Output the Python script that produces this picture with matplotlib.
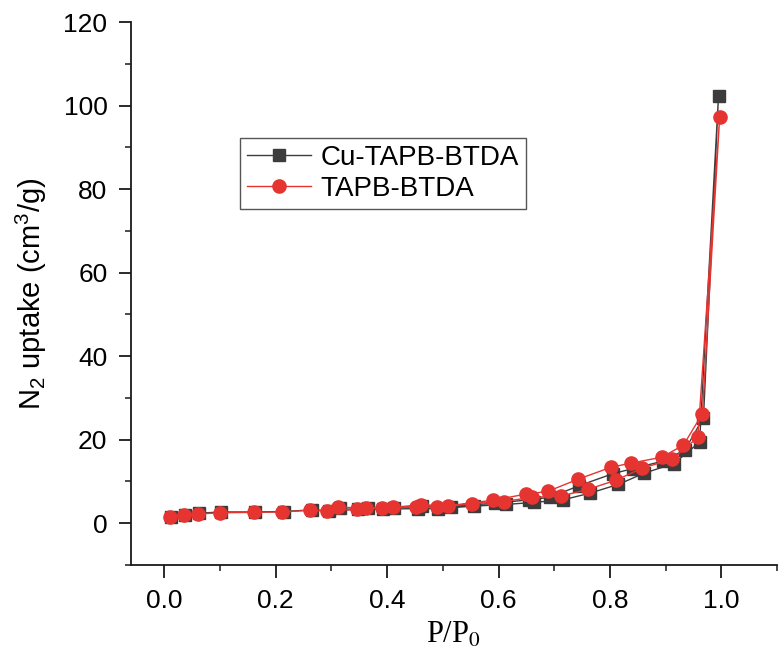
import matplotlib
matplotlib.use("Agg")
import matplotlib.pyplot as plt
from matplotlib.ticker import MultipleLocator, FormatStrFormatter

# N2 adsorption (rising P/P0) followed by desorption (falling P/P0)
p_cu_ads = [0.012, 0.037, 0.062, 0.102, 0.162, 0.214, 0.265, 0.295, 0.348, 0.393, 0.455,
            0.492, 0.556, 0.614, 0.664, 0.716, 0.764, 0.815, 0.862, 0.915, 0.961, 0.995]
v_cu_ads = [1.6, 2.0, 2.4, 2.7, 2.7, 2.8, 3.2, 3.0, 3.3, 3.4, 3.5,
            3.5, 4.1, 4.5, 5.0, 5.6, 7.2, 9.3, 12.0, 14.3, 19.4, 102.4]
p_cu_des = [0.968, 0.935, 0.896, 0.842, 0.806, 0.745, 0.692, 0.654, 0.594, 0.514,
            0.463, 0.413, 0.365, 0.315]
v_cu_des = [25.3, 17.6, 14.9, 13.1, 11.9, 9.0, 6.2, 5.6, 4.8, 4.0,
            4.1, 3.7, 3.6, 3.7]

p_tapb_ads = [0.010, 0.035, 0.060, 0.100, 0.160, 0.212, 0.262, 0.292, 0.346, 0.390, 0.452,
              0.490, 0.553, 0.610, 0.660, 0.712, 0.760, 0.811, 0.858, 0.912, 0.958, 0.997]
v_tapb_ads = [1.5, 1.9, 2.2, 2.5, 2.6, 2.7, 3.1, 2.9, 3.4, 3.6, 3.9,
              3.8, 4.7, 5.2, 6.2, 6.5, 8.1, 10.3, 13.2, 15.3, 20.6, 97.2]
p_tapb_des = [0.966, 0.932, 0.893, 0.838, 0.802, 0.742, 0.688, 0.650, 0.590, 0.510,
              0.460, 0.410, 0.362, 0.312]
v_tapb_des = [26.2, 18.7, 15.8, 14.4, 13.4, 10.5, 7.6, 7.0, 5.5, 4.2,
              4.4, 3.8, 3.7, 3.8]

series_names = ["Cu-TAPB-BTDA", "TAPB-BTDA"]

plt.rcParams["font.family"] = ["Liberation Sans", "DejaVu Sans"]
plt.rcParams["mathtext.fontset"] = "custom"
plt.rcParams["mathtext.rm"] = "Liberation Sans"
plt.rcParams["mathtext.it"] = "Liberation Sans:italic"

fig = plt.figure(figsize=(7.78, 6.5), dpi=100)
ax = fig.add_axes([131 / 778, 1 - 565 / 650, 646 / 778, (565 - 22) / 650])

dark = "#3c3c3c"
red = "#e63431"

ax.plot(p_cu_ads + p_cu_des, v_cu_ads + v_cu_des, color=dark, lw=1.0,
        marker="s", ms=8.5, mfc=dark, mec=dark, label=series_names[0], zorder=3)
ax.plot(p_tapb_ads + p_tapb_des, v_tapb_ads + v_tapb_des, color=red, lw=1.0,
        marker="o", ms=9.5, mfc=red, mec=red, label=series_names[1], zorder=4)

ax.set_xlim(-0.06, 1.1)
ax.set_ylim(-10, 120)
ax.xaxis.set_major_locator(MultipleLocator(0.2))
ax.xaxis.set_minor_locator(MultipleLocator(0.1))
ax.yaxis.set_major_locator(MultipleLocator(20))
ax.yaxis.set_minor_locator(MultipleLocator(10))
ax.xaxis.set_major_formatter(FormatStrFormatter("%.1f"))

for side in ("top", "right"):
    ax.spines[side].set_visible(False)
for side in ("left", "bottom"):
    ax.spines[side].set_linewidth(1.3)
    ax.spines[side].set_color("#1a1a1a")

ax.tick_params(which="major", direction="out", length=9, width=1.3, labelsize=19,
               pad=8, color="#1a1a1a")
ax.tick_params(which="minor", direction="out", length=4.5, width=1.1, color="#1a1a1a")

ax.set_ylabel(r"N$_2$ uptake (cm$^3$/g)", fontsize=21, labelpad=10)
ax.set_xlabel(r"P/P$_0$", fontsize=22, family="Liberation Serif",
              math_fontfamily="stix", labelpad=6)

leg = ax.legend(loc="upper left", bbox_to_anchor=(0.169, 0.787), borderaxespad=0,
                fontsize=20, frameon=True, fancybox=False, framealpha=1,
                edgecolor="#555555", borderpad=0.25, labelspacing=0.2,
                handlelength=2.3, handletextpad=0.35)
leg.get_frame().set_linewidth(1.0)

fig.savefig("out.png", dpi=100)
